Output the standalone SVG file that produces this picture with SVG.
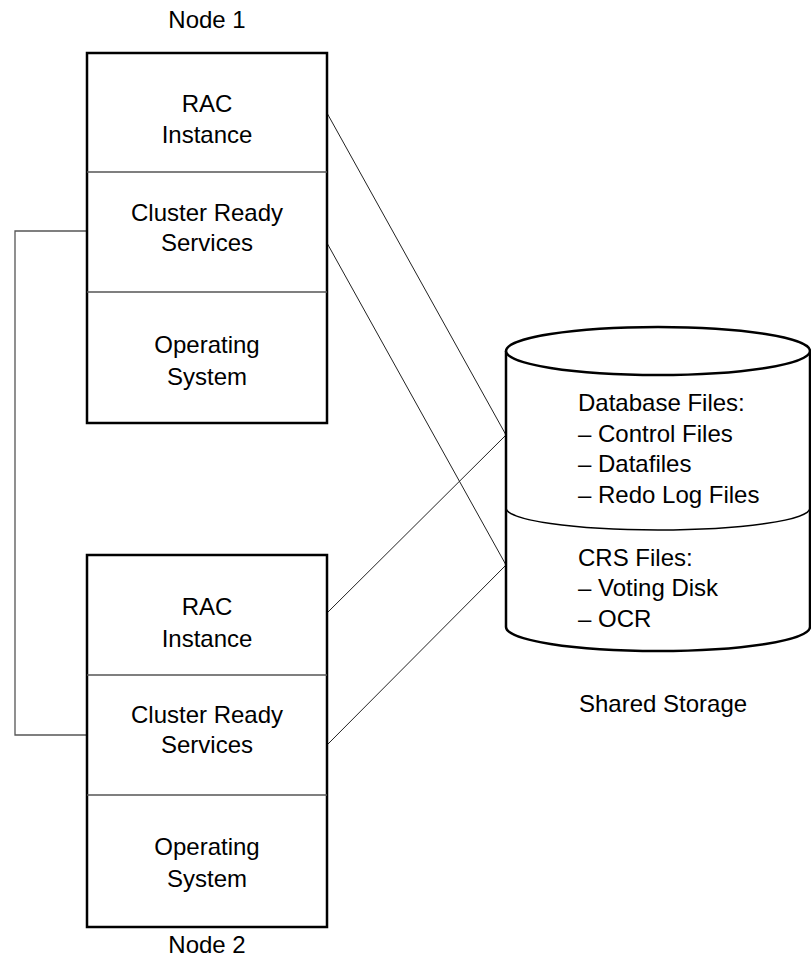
<svg xmlns="http://www.w3.org/2000/svg" width="811" height="977" viewBox="0 0 811 977">
<style>
text { font-family: "Liberation Sans", Arial, sans-serif; font-size: 24px; fill: #000; }
.c { text-anchor: middle; }
.box { fill: #fff; stroke: #000; stroke-width: 2.5; }
.div { stroke: #555; stroke-width: 1.5; fill: none; }
.conn { stroke: #222; stroke-width: 1; fill: none; }
.link { stroke: #555; stroke-width: 1.3; fill: none; }
.cyl { fill: #fff; stroke: #000; stroke-width: 2.5; }
.cyl2 { fill: none; stroke: #000; stroke-width: 1.5; }
</style>
<g id="connectors">
<polyline class="link" points="87,231 15,231 15,735 87,735"/>
<line class="conn" x1="327" y1="113" x2="506" y2="435"/>
<line class="conn" x1="327" y1="613" x2="506" y2="435"/>
<line class="conn" x1="327" y1="243" x2="506" y2="565"/>
<line class="conn" x1="327" y1="745" x2="506" y2="565"/>
</g>
<g id="node1">
<text class="c" x="207" y="28">Node 1</text>
<rect class="box" x="87" y="53" width="240" height="370"/>
<line class="div" x1="87" y1="172" x2="327" y2="172"/>
<line class="div" x1="87" y1="292" x2="327" y2="292"/>
<text class="c" x="207" y="112">RAC</text>
<text class="c" x="207" y="143">Instance</text>
<text class="c" x="207" y="221">Cluster Ready</text>
<text class="c" x="207" y="251">Services</text>
<text class="c" x="207" y="353">Operating</text>
<text class="c" x="207" y="385">System</text>
</g>
<g id="node2">
<rect class="box" x="87" y="555" width="240" height="372"/>
<line class="div" x1="87" y1="675" x2="327" y2="675"/>
<line class="div" x1="87" y1="795" x2="327" y2="795"/>
<text class="c" x="207" y="615">RAC</text>
<text class="c" x="207" y="647">Instance</text>
<text class="c" x="207" y="723">Cluster Ready</text>
<text class="c" x="207" y="753">Services</text>
<text class="c" x="207" y="855">Operating</text>
<text class="c" x="207" y="887">System</text>
<text class="c" x="207" y="953">Node 2</text>
</g>
<g id="storage">
<path class="cyl" d="M506,351 L506,627 A152,24 0 0 0 810,627 L810,351"/>
<ellipse class="cyl" cx="658" cy="351" rx="152" ry="24"/>
<path class="cyl2" d="M506,508 A152,22 0 0 0 810,508"/>
<text x="578" y="411">Database Files:</text>
<text x="578" y="442">– Control Files</text>
<text x="578" y="472">– Datafiles</text>
<text x="578" y="503">– Redo Log Files</text>
<text x="578" y="566">CRS Files:</text>
<text x="578" y="596">– Voting Disk</text>
<text x="578" y="627">– OCR</text>
<text x="579" y="712">Shared Storage</text>
</g>
</svg>
